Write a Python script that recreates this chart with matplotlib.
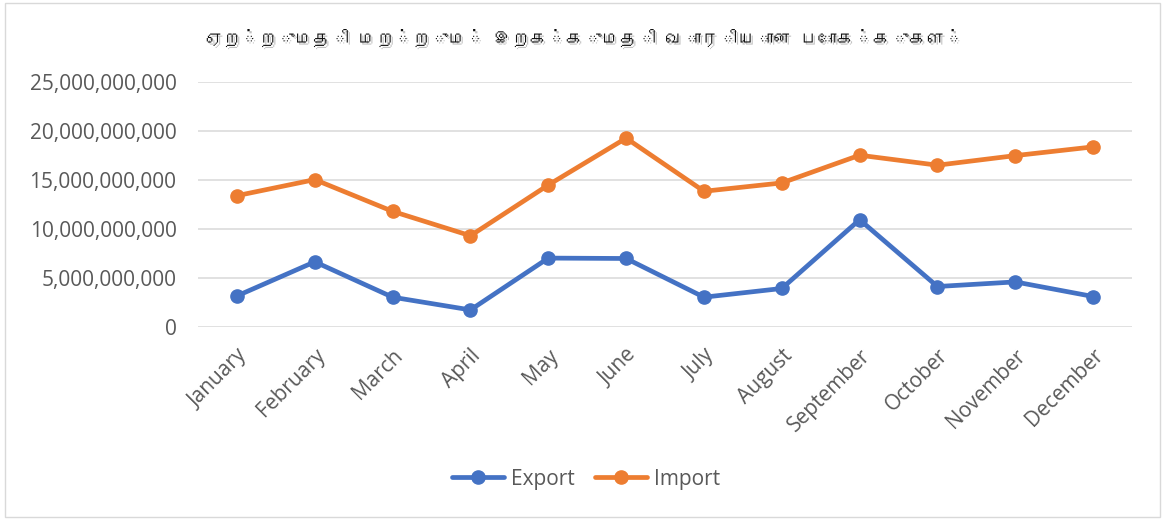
import matplotlib
matplotlib.use("Agg")
import matplotlib.pyplot as plt
from matplotlib import font_manager as fm
from matplotlib.ft2font import FT2Font
from matplotlib.ticker import FuncFormatter
from matplotlib.patches import Rectangle
import matplotlib.patheffects as pe

title = "ஏற்றுமதி மற்றும் இறக்குமதி வாரியான போக்குகள்"
months = ["January", "February", "March", "April", "May", "June", "July",
          "August", "September", "October", "November", "December"]
export_vals = [3.17e9, 6.65e9, 3.04e9, 1.74e9, 7.03e9, 6.99e9, 3.04e9,
               3.93e9, 10.95e9, 4.13e9, 4.60e9, 3.11e9]
import_vals = [13.40e9, 15.04e9, 11.80e9, 9.31e9, 14.49e9, 19.27e9, 13.85e9,
               14.70e9, 17.53e9, 16.51e9, 17.49e9, 18.38e9]
series_names = ["Export", "Import"]
yticks = [0, 5e9, 10e9, 15e9, 20e9, 25e9]


def find_font(ch):
    for f in fm.findSystemFonts():
        try:
            ft = FT2Font(f)
            if ord(ch) in ft.get_charmap():
                return f
        except Exception:
            pass
    return None


tamil_path = find_font("ஏ")
if tamil_path:
    title_fp = fm.FontProperties(fname=tamil_path, size=13)
else:
    title_fp = fm.FontProperties(family="DejaVu Sans", size=13)

plt.rcParams['font.family'] = ['Open Sans', 'DejaVu Sans']
gray = "#595959"
fs = 15

fig = plt.figure(figsize=(11.65, 5.23), dpi=100)
ax = fig.add_axes([0.170, 0.3748, 0.8017, 0.4684])

x = list(range(len(months)))
ax.plot(x, export_vals, color="#4472C4", lw=3.4, marker="o", ms=9.5,
        label=series_names[0], solid_capstyle="round", zorder=3)
ax.plot(x, import_vals, color="#ED7D31", lw=3.4, marker="o", ms=9.5,
        label=series_names[1], solid_capstyle="round", zorder=3)

ax.set_xlim(-0.5, len(months) - 0.5)
ax.set_ylim(0, 25e9)
ax.set_yticks(yticks)
ax.yaxis.set_major_formatter(FuncFormatter(lambda v, p: f"{int(v):,}"))
ax.set_xticks(x)
ax.set_xticklabels(months, rotation=45, ha="right", rotation_mode="anchor")
ax.tick_params(axis="both", length=0, colors=gray, labelsize=fs)
ax.tick_params(axis="y", pad=15.5)
ax.tick_params(axis="x", pad=13)
ax.grid(axis="y", color="#D9D9D9", lw=1.1, zorder=0)
ax.set_axisbelow(True)
for s in ax.spines.values():
    s.set_visible(False)

fig.text(0.5, 0.927, title, ha="center", va="center", fontproperties=title_fp,
         color="#111111",
         path_effects=[pe.withSimplePatchShadow(offset=(1.5, -1.5), shadow_rgbFace="#888888", alpha=0.5)])

leg = fig.legend(loc="center", bbox_to_anchor=(0.503, 0.084), ncol=2, frameon=False,
                 fontsize=fs, handlelength=2.5, columnspacing=1.0, handletextpad=0.3)
for t in leg.get_texts():
    t.set_color(gray)

fig.patches.append(Rectangle((5 / 1165, 6 / 523), 1155 / 1165, 514 / 523,
                             transform=fig.transFigure, fill=False,
                             edgecolor="#D9D9D9", lw=1.0))

fig.savefig("out.png", dpi=100)
